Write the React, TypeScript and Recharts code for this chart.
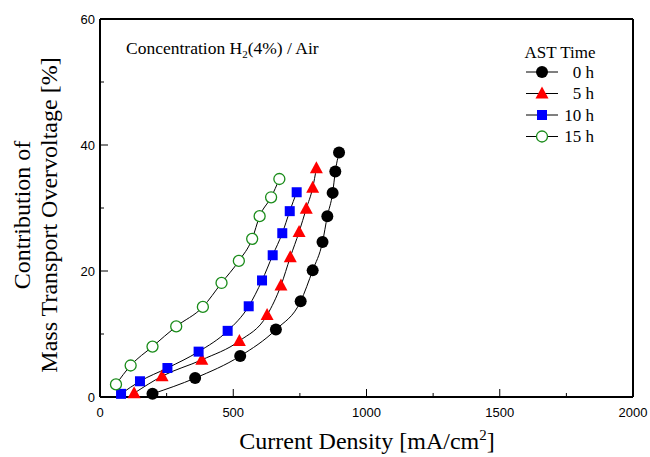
import React from 'react';
import { LineChart, Line, XAxis, YAxis } from 'recharts';

// current density [mA/cm2] vs. mass transport contribution [%] per AST time
const h0X = [197, 357, 526, 660, 753, 798, 835, 853, 873, 883, 897];
const h0Y = [0.5, 3.0, 6.5, 10.7, 15.2, 20.1, 24.6, 28.7, 32.4, 35.8, 38.8];

const h5X = [128, 233, 382, 523, 627, 679, 714, 747, 774, 798, 812];
const h5Y = [0.6, 3.3, 5.9, 8.9, 13.0, 17.7, 22.2, 26.2, 29.9, 33.2, 36.3];

const h10X = [79, 150, 253, 370, 479, 558, 608, 648, 684, 712, 738];
const h10Y = [0.5, 2.5, 4.6, 7.2, 10.5, 14.4, 18.5, 22.5, 26.0, 29.5, 32.5];

const h15X = [60, 115, 197, 286, 386, 456, 521, 571, 599, 642, 673];
const h15Y = [2.0, 5.0, 8.0, 11.2, 14.3, 18.1, 21.6, 25.1, 28.7, 31.7, 34.6];

const xTicks = [0, 250, 500, 750, 1000, 1250, 1500, 1750, 2000];
const yTicks = [0, 10, 20, 30, 40, 50, 60];

const toPoints = (xs: number[], ys: number[]) => xs.map((x, i) => ({ x, y: ys[i] }));

const SERIF = '"Liberation Serif", "Times New Roman", serif';
const SANS = '"Liberation Sans", Arial, sans-serif';
const MAJOR = 8;
const MINOR = 4;

// tickSize and tickMargin are 0, so the tick anchor sits on the axis line
const BottomTick = ({ x, y, payload }: any) => {
  const major = payload.value % 500 === 0;
  return (
    <g>
      <line x1={x} y1={y} x2={x} y2={y - (major ? MAJOR : MINOR)} stroke="#000" strokeWidth={1} />
      {major && (
        <text x={x} y={y + 20} textAnchor="middle" fontFamily={SANS} fontSize={13} fill="#000">
          {payload.value}
        </text>
      )}
    </g>
  );
};

const TopTick = ({ x, y, payload }: any) => {
  const major = payload.value % 500 === 0;
  return <line x1={x} y1={y} x2={x} y2={y + (major ? MAJOR : MINOR)} stroke="#000" strokeWidth={1} />;
};

const LeftTick = ({ x, y, payload }: any) => {
  const major = payload.value % 20 === 0;
  return (
    <g>
      <line x1={x} y1={y} x2={x + (major ? MAJOR : MINOR)} y2={y} stroke="#000" strokeWidth={1} />
      {major && (
        <text x={x - 5} y={y + 5} textAnchor="end" fontFamily={SANS} fontSize={13} fill="#000">
          {payload.value}
        </text>
      )}
    </g>
  );
};

const RightTick = ({ x, y, payload }: any) => {
  const major = payload.value % 20 === 0;
  return <line x1={x} y1={y} x2={x - (major ? MAJOR : MINOR)} y2={y} stroke="#000" strokeWidth={1} />;
};

const CircleDot = ({ cx, cy }: any) => <circle cx={cx} cy={cy} r={6} fill="#000" />;
const TriangleDot = ({ cx, cy }: any) => (
  <polygon points={`${cx},${cy - 7} ${cx + 6.5},${cy + 5} ${cx - 6.5},${cy + 5}`} fill="#ff0000" />
);
const SquareDot = ({ cx, cy }: any) => <rect x={cx - 5} y={cy - 5} width={10} height={10} fill="#0000ff" />;
const OpenDot = ({ cx, cy }: any) => (
  <circle cx={cx} cy={cy} r={5.5} fill="#fff" stroke="#1a8c1a" strokeWidth={1.3} />
);

const legendRows = [
  { label: '0 h', kind: 'circle' },
  { label: '5 h', kind: 'triangle' },
  { label: '10 h', kind: 'square' },
  { label: '15 h', kind: 'open' },
];

const LegendMarker = ({ kind, cx, cy }: { kind: string; cx: number; cy: number }) => {
  if (kind === 'circle') return <CircleDot cx={cx} cy={cy} />;
  if (kind === 'triangle') return <TriangleDot cx={cx} cy={cy} />;
  if (kind === 'square') return <SquareDot cx={cx} cy={cy} />;
  return <OpenDot cx={cx} cy={cy} />;
};

const series = [
  { name: '0 h', data: toPoints(h0X, h0Y), dot: <CircleDot /> },
  { name: '5 h', data: toPoints(h5X, h5Y), dot: <TriangleDot /> },
  { name: '10 h', data: toPoints(h10X, h10Y), dot: <SquareDot /> },
  { name: '15 h', data: toPoints(h15X, h15Y), dot: <OpenDot /> },
];

export default function App() {
  return (
    <div style={{ position: 'absolute', left: 0, top: 0, width: 650, height: 457, background: '#fff' }}>
      <LineChart width={650} height={457} margin={{ top: 1, right: 1, bottom: 0, left: 0 }}>
        <XAxis
          xAxisId="bottom"
          type="number"
          dataKey="x"
          domain={[0, 2000]}
          ticks={xTicks}
          interval={0}
          height={60}
          stroke="#000"
          strokeWidth={2}
          tickLine={false}
          tickSize={0}
          tickMargin={0}
          tick={<BottomTick />}
        />
        <XAxis
          xAxisId="top"
          orientation="top"
          type="number"
          dataKey="x"
          domain={[0, 2000]}
          ticks={xTicks}
          interval={0}
          height={18}
          stroke="#000"
          strokeWidth={2}
          tickLine={false}
          tickSize={0}
          tickMargin={0}
          tick={<TopTick />}
        />
        <YAxis
          yAxisId="left"
          type="number"
          domain={[0, 60]}
          ticks={yTicks}
          interval={0}
          width={100}
          stroke="#000"
          strokeWidth={2}
          tickLine={false}
          tickSize={0}
          tickMargin={0}
          tick={<LeftTick />}
        />
        <YAxis
          yAxisId="right"
          orientation="right"
          type="number"
          domain={[0, 60]}
          ticks={yTicks}
          interval={0}
          width={16}
          stroke="#000"
          strokeWidth={2}
          tickLine={false}
          tickSize={0}
          tickMargin={0}
          tick={<RightTick />}
        />
        {series.map((s) => (
          <Line
            key={s.name}
            xAxisId="bottom"
            yAxisId="left"
            data={s.data}
            dataKey="y"
            name={s.name}
            type="monotone"
            stroke="#000"
            strokeWidth={1}
            dot={s.dot}
            activeDot={false}
            isAnimationActive={false}
          />
        ))}
      </LineChart>
      <svg
        width={650}
        height={457}
        style={{ position: 'absolute', left: 0, top: 0, pointerEvents: 'none' }}
      >
        <text x={126} y={54} fontFamily={SERIF} fontSize={17.5} fill="#000">
          Concentration{'  '}H
          <tspan fontSize={11} dy={4}>2</tspan>
          <tspan dy={-4}>(4%) / Air</tspan>
        </text>
        <text x={560} y={58} textAnchor="middle" fontFamily={SERIF} fontSize={17} fill="#000">
          AST Time
        </text>
        {legendRows.map((r, i) => {
          const cy = 72 + i * 21.5;
          return (
            <g key={r.label}>
              <line x1={526} y1={cy} x2={558} y2={cy} stroke="#000" strokeWidth={1} />
              <LegendMarker kind={r.kind} cx={542} cy={cy} />
              <text x={594} y={cy + 5.5} textAnchor="end" fontFamily={SERIF} fontSize={17} fill="#000">
                {r.label}
              </text>
            </g>
          );
        })}
        <text x={367} y={449} textAnchor="middle" fontFamily={SERIF} fontSize={24} fill="#000">
          Current Density [mA/cm
          <tspan fontSize={15} dy={-9}>2</tspan>
          <tspan dy={9}>]</tspan>
        </text>
        <g transform="translate(30 215) rotate(-90)">
          <text x={0} y={0} textAnchor="middle" fontFamily={SERIF} fontSize={24} fill="#000">
            Contribution of
          </text>
        </g>
        <g transform="translate(57 215) rotate(-90)">
          <text x={0} y={0} textAnchor="middle" fontFamily={SERIF} fontSize={24} fill="#000">
            Mass Transport Overvoltage [%]
          </text>
        </g>
      </svg>
    </div>
  );
}
